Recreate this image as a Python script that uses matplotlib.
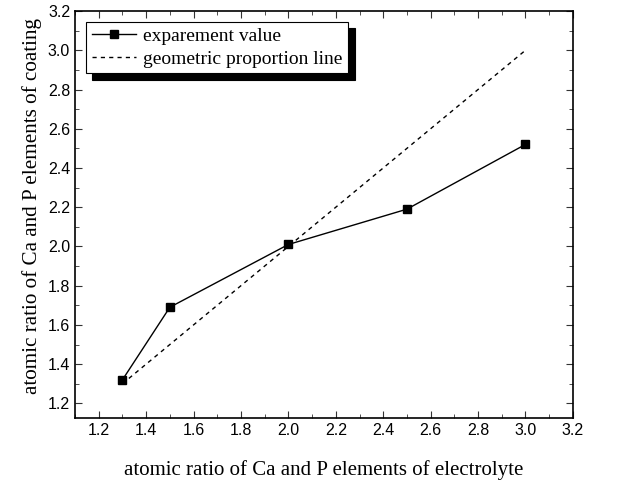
import matplotlib.pyplot as plt
from matplotlib.ticker import MultipleLocator

# data
electrolyte_ratio = [1.3, 1.5, 2.0, 2.5, 3.0]
coating_ratio = [1.32, 1.69, 2.01, 2.19, 2.52]
proportion_x = [1.3, 3.0]
proportion_y = [1.3, 3.0]

serif = ["Liberation Serif", "DejaVu Serif"]
plt.rcParams["font.family"] = ["Liberation Sans", "DejaVu Sans"]

fig = plt.figure(figsize=(6.2, 4.8), dpi=100)
ax = fig.add_axes([0.121, 0.129, 0.803, 0.848])

ax.plot(electrolyte_ratio, coating_ratio, color="black", linewidth=1.0,
        marker="s", markersize=6, label="exparement value")
ax.plot(proportion_x, proportion_y, color="black", linewidth=1.0,
        linestyle=(0, (3, 3)), label="geometric proportion line")

ax.set_xlim(1.1, 3.2)
ax.set_ylim(1.125, 3.2)
ax.xaxis.set_major_locator(MultipleLocator(0.2))
ax.xaxis.set_minor_locator(MultipleLocator(0.1))
ax.yaxis.set_major_locator(MultipleLocator(0.2))
ax.yaxis.set_minor_locator(MultipleLocator(0.1))
ax.xaxis.set_major_formatter(lambda v, p: f"{v:.1f}")
ax.yaxis.set_major_formatter(lambda v, p: f"{v:.1f}")
ax.tick_params(which="both", direction="in", top=True, right=True,
               labelsize=11.5, color="#333333")
ax.tick_params(which="major", length=5)
ax.tick_params(which="minor", length=3)
for s in ax.spines.values():
    s.set_linewidth(1.2)

ax.set_xlabel("atomic ratio of Ca and P elements of electrolyte",
              family=serif, fontsize=15, labelpad=16)
ax.set_ylabel("atomic ratio of Ca and P elements of coating",
              family=serif, fontsize=15.2, labelpad=4)
ax.yaxis.label.set_y(0.52)

leg = ax.legend(loc="upper left", borderaxespad=0.55,
                prop={"family": serif, "size": 14}, fancybox=False,
                shadow={"color": "black", "alpha": 1.0, "ox": 4.5, "oy": -4.5},
                framealpha=1, edgecolor="black", handlelength=2.3,
                handletextpad=0.35, borderpad=0.3, labelspacing=0.25)
leg.get_frame().set_linewidth(0.8)

fig.savefig("out.png", dpi=100)
